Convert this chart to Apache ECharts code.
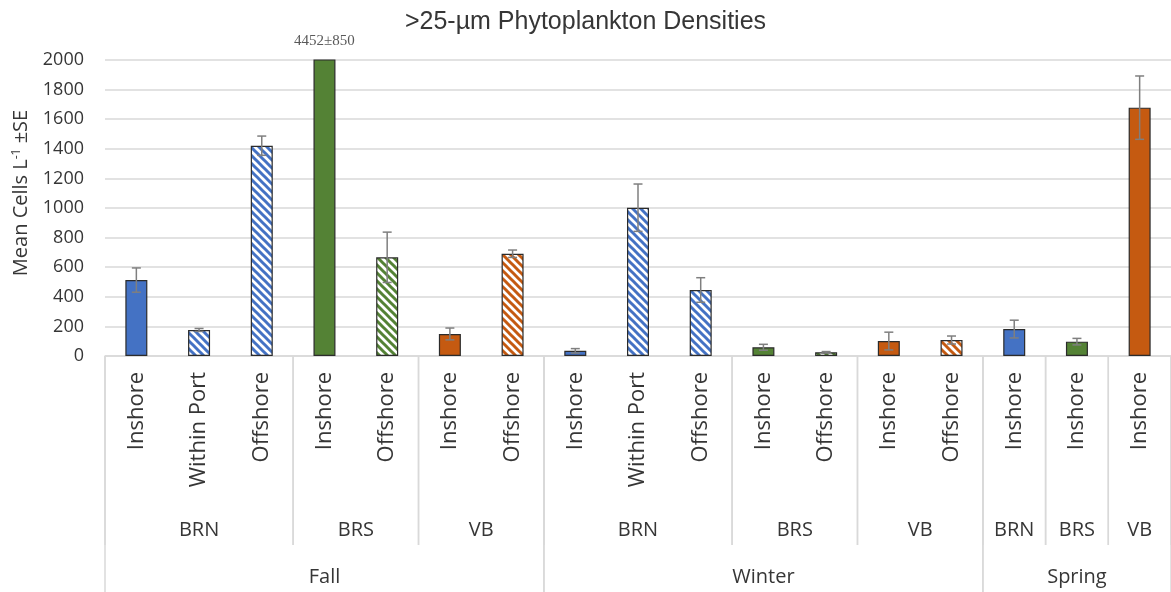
<!DOCTYPE html>
<html>
<head>
<meta charset="utf-8">
<script src="https://cdn.jsdelivr.net/npm/echarts@6/dist/echarts.min.js"></script>
<style>
  html, body { margin: 0; padding: 0; background: #fff; }
  #chart { width: 1171px; height: 592px; }
</style>
</head>
<body>
<div id="chart"></div>
<script>
// Sampling stations, in plotting order
const stations = ['Inshore', 'Within Port', 'Offshore', 'Inshore', 'Offshore', 'Inshore', 'Offshore',
                  'Inshore', 'Within Port', 'Offshore', 'Inshore', 'Offshore', 'Inshore', 'Offshore',
                  'Inshore', 'Inshore', 'Inshore'];
const sites = ['BRN', 'BRN', 'BRN', 'BRS', 'BRS', 'VB', 'VB',
               'BRN', 'BRN', 'BRN', 'BRS', 'BRS', 'VB', 'VB',
               'BRN', 'BRS', 'VB'];
const seasons = ['Fall', 'Fall', 'Fall', 'Fall', 'Fall', 'Fall', 'Fall',
                 'Winter', 'Winter', 'Winter', 'Winter', 'Winter', 'Winter', 'Winter',
                 'Spring', 'Spring', 'Spring'];
// Mean cells per litre and standard error
const meanCells = [513, 176, 1421, 4452, 667, 149, 691, 35, 1002, 446, 59, 25, 101, 108, 182, 97, 1678];
const stdErr = [82, 10, 65, 850, 170, 40, 25, 15, 160, 83, 20, 5, 60, 27, 60, 22, 214];
const yTicks = [0, 200, 400, 600, 800, 1000, 1200, 1400, 1600, 1800, 2000];

const siteColors = { BRN: '#4472C4', BRS: '#548235', VB: '#C55A11' };
const FONT = '"Open Sans", "DejaVu Sans", sans-serif';
const TEXT = '#363636';

// Diagonal stripe fill for the non-inshore stations
function stripes(color) {
  const s = 8;
  const c = document.createElement('canvas');
  c.width = s; c.height = s;
  const ctx = c.getContext('2d');
  ctx.fillStyle = '#ffffff';
  ctx.fillRect(0, 0, s, s);
  ctx.strokeStyle = color;
  ctx.lineWidth = 3;
  for (const k of [-s, 0, s]) {
    ctx.beginPath();
    ctx.moveTo(k - 2, -2);
    ctx.lineTo(k + s + 2, s + 2);
    ctx.stroke();
  }
  return { image: c, repeat: 'repeat' };
}

const yMax = yTicks[yTicks.length - 1];

const barData = meanCells.map((v, i) => {
  const col = siteColors[sites[i]];
  const item = {
    value: v,
    itemStyle: {
      color: stations[i] === 'Inshore' ? col : stripes(col),
      borderColor: '#2b2b2b',
      borderWidth: 1.2
    }
  };
  if (v > yMax) {
    item.label = {
      show: true,
      position: 'top',
      distance: 11,
      formatter: meanCells[i] + '±' + stdErr[i],
      fontFamily: '"Liberation Serif", "DejaVu Serif", serif',
      fontSize: 15,
      color: '#595959'
    };
  }
  return item;
});

const errData = meanCells.map((v, i) => [i, v - stdErr[i], v + stdErr[i]]);

// Runs of identical labels for the grouped axis levels
function runs(arr, level) {
  const out = [];
  let start = 0;
  for (let i = 1; i <= arr.length; i++) {
    if (i === arr.length || arr[i] !== arr[start] || (level === 0 && seasons[i] !== seasons[start])) {
      out.push({ value: [start, 0, i - 1, level], name: arr[start] });
      start = i;
    }
  }
  return out;
}
const groupData = runs(sites, 0).concat(runs(seasons, 1));

const chart = echarts.init(document.getElementById('chart'), null, { renderer: 'canvas' });

chart.setOption({
  backgroundColor: '#ffffff',
  animation: false,
  title: {
    text: '>25-µm Phytoplankton Densities',
    left: 'center',
    top: 5,
    textStyle: {
      fontFamily: '"Liberation Sans", Arial, sans-serif',
      fontSize: 25,
      fontWeight: 'normal',
      color: TEXT
    }
  },
  grid: { left: 105, right: -3, top: 60, bottom: 236 },
  xAxis: {
    type: 'category',
    data: stations,
    axisLine: { lineStyle: { color: '#d9d9d9', width: 1.5 } },
    axisTick: { show: false },
    axisLabel: {
      rotate: 90,
      interval: 0,
      margin: 16,
      fontFamily: FONT,
      fontSize: 22,
      color: TEXT
    }
  },
  yAxis: {
    type: 'value',
    min: 0,
    max: yMax,
    interval: yTicks[1] - yTicks[0],
    name: '{t|Mean Cells L}{s|-1}{t| ±SE}',
    nameLocation: 'middle',
    nameGap: 74,
    nameRotate: 90,
    nameTextStyle: {
      padding: [0, 0, 0, 30],
      rich: {
        t: { fontFamily: FONT, fontSize: 20, color: TEXT },
        s: { fontFamily: FONT, fontSize: 12, color: TEXT, verticalAlign: 'top' }
      }
    },
    axisLine: { show: false },
    axisTick: { show: false },
    axisLabel: {
      margin: 21,
      fontFamily: FONT,
      fontSize: 18,
      color: TEXT,
      formatter: v => String(v)
    },
    splitLine: { lineStyle: { color: '#d9d9d9', width: 1.5 } }
  },
  series: [
    {
      type: 'bar',
      data: barData,
      barWidth: 22,
      clip: true
    },
    {
      type: 'custom',
      data: errData,
      clip: true,
      z: 5,
      renderItem(params, api) {
        const i = api.value(0);
        const lo = api.coord([i, api.value(1)]);
        const hi = api.coord([i, api.value(2)]);
        const cap = 4.5;
        const st = { stroke: '#7f7f7f', lineWidth: 1.5 };
        return {
          type: 'group',
          children: [
            { type: 'line', shape: { x1: hi[0], y1: lo[1], x2: hi[0], y2: hi[1] }, style: st },
            { type: 'line', shape: { x1: hi[0] - cap, y1: hi[1], x2: hi[0] + cap, y2: hi[1] }, style: st },
            { type: 'line', shape: { x1: lo[0] - cap, y1: lo[1], x2: lo[0] + cap, y2: lo[1] }, style: st }
          ]
        };
      }
    },
    {
      // Site and season rows beneath the station labels
      type: 'custom',
      data: groupData,
      clip: false,
      silent: true,
      renderItem(params, api) {
        const s = api.value(0), e = api.value(2), level = api.value(3);
        const bw = api.size([1, 0])[0];
        const base = api.coord([s, 0])[1];
        const x0 = api.coord([s, 0])[0] - bw / 2;
        const x1 = api.coord([e, 0])[0] + bw / 2;
        const lineLen = level === 0 ? 189 : 240;
        const textY = base + (level === 0 ? 174 : 221);
        const st = { stroke: '#d9d9d9', lineWidth: 1.5 };
        return {
          type: 'group',
          children: [
            { type: 'line', shape: { x1: x0, y1: base, x2: x0, y2: base + lineLen }, style: st },
            { type: 'line', shape: { x1: x1, y1: base, x2: x1, y2: base + lineLen }, style: st },
            {
              type: 'text',
              style: {
                text: groupData[params.dataIndex].name,
                x: (x0 + x1) / 2,
                y: textY,
                align: 'center',
                verticalAlign: 'middle',
                fontFamily: FONT,
                fontSize: 20,
                fill: TEXT
              }
            }
          ]
        };
      }
    }
  ]
});
</script>
</body>
</html>
